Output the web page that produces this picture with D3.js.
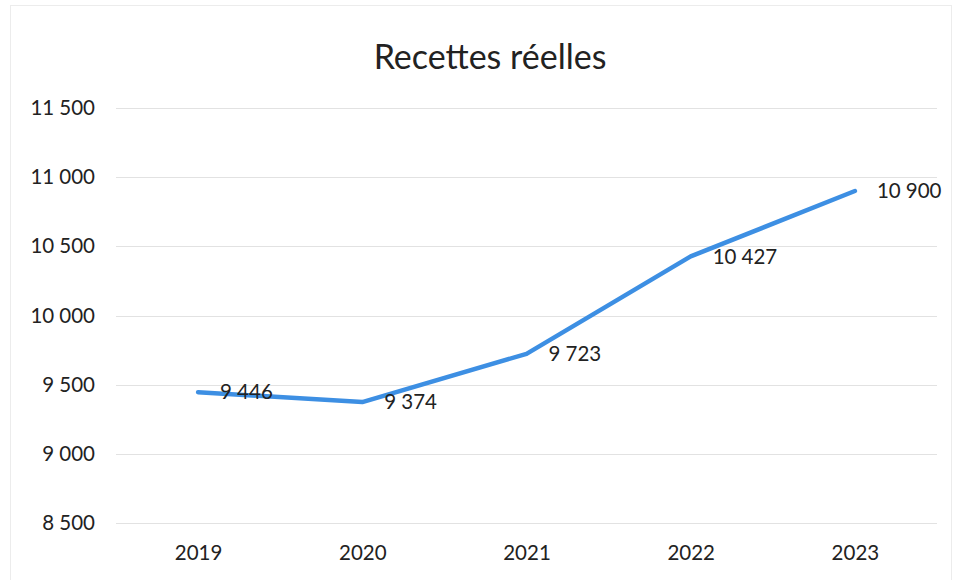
<!DOCTYPE html>
<html>
<head>
<meta charset="utf-8">
<script src="https://cdn.jsdelivr.net/npm/d3@7"></script>
<style>
  html, body { margin: 0; padding: 0; background: #fff; }
  svg { display: block; }
  text { font-family: Lato, "Open Sans", sans-serif; fill: #222; }
</style>
</head>
<body>
<svg id="chart" width="957" height="580"></svg>
<script>
const years = ["2019", "2020", "2021", "2022", "2023"];
const recettes = [9446, 9374, 9723, 10427, 10900];
const yTicks = [8500, 9000, 9500, 10000, 10500, 11000, 11500];
const title = "Recettes réelles";

const W = 957, H = 580;
const margin = { top: 108, right: 20, bottom: 57, left: 116 };
const svg = d3.select("#chart");

// light frame around the chart area
svg.append("rect")
  .attr("x", 10.5).attr("y", 5.5)
  .attr("width", W - 16).attr("height", H + 10)
  .attr("fill", "none").attr("stroke", "#ececec");

const x = d3.scalePoint()
  .domain(years)
  .range([margin.left, W - margin.right])
  .padding(0.5);

const y = d3.scaleLinear()
  .domain([8500, 11500])
  .range([H - margin.bottom, margin.top]);

const fmt = v => d3.format(",")(v).replace(/,/g, "\u202F");

// horizontal gridlines
svg.append("g")
  .selectAll("line")
  .data(yTicks)
  .join("line")
  .attr("x1", margin.left).attr("x2", W - margin.right)
  .attr("y1", d => Math.round(y(d)) + 0.5).attr("y2", d => Math.round(y(d)) + 0.5)
  .attr("stroke", "#e2e2e2").attr("stroke-width", 1);

// y axis labels
const yAxis = d3.axisLeft(y).tickValues(yTicks).tickFormat(fmt).tickSize(0).tickPadding(21);
const gy = svg.append("g").attr("transform", `translate(${margin.left},0)`).call(yAxis);
gy.select(".domain").remove();
gy.selectAll("text").attr("font-size", 20.5).attr("fill", "#222")
  .style("font-family", "Lato, 'Open Sans', sans-serif");

// x axis labels
const xAxis = d3.axisBottom(x).tickSize(0).tickPadding(22);
const gx = svg.append("g").attr("transform", `translate(0,${H - margin.bottom})`).call(xAxis);
gx.select(".domain").remove();
gx.selectAll("text").attr("font-size", 20.5).attr("fill", "#222")
  .style("font-family", "Lato, 'Open Sans', sans-serif");

// title
svg.append("text")
  .attr("x", 490).attr("y", 69)
  .attr("text-anchor", "middle")
  .attr("font-size", 34)
  .text(title);

// series line
const data = years.map((yr, i) => ({ year: yr, value: recettes[i] }));
const line = d3.line().x(d => x(d.year)).y(d => y(d.value));
svg.append("path")
  .datum(data)
  .attr("d", line)
  .attr("fill", "none")
  .attr("stroke", "#3d8fe3")
  .attr("stroke-width", 4.5)
  .attr("stroke-linejoin", "round")
  .attr("stroke-linecap", "round");

// value labels to the right of each point
svg.append("g")
  .selectAll("text")
  .data(data)
  .join("text")
  .attr("x", d => x(d.year) + 22)
  .attr("y", d => y(d.value))
  .attr("dy", "0.35em")
  .attr("font-size", 20.5)
  .text(d => fmt(d.value));
</script>
</body>
</html>
